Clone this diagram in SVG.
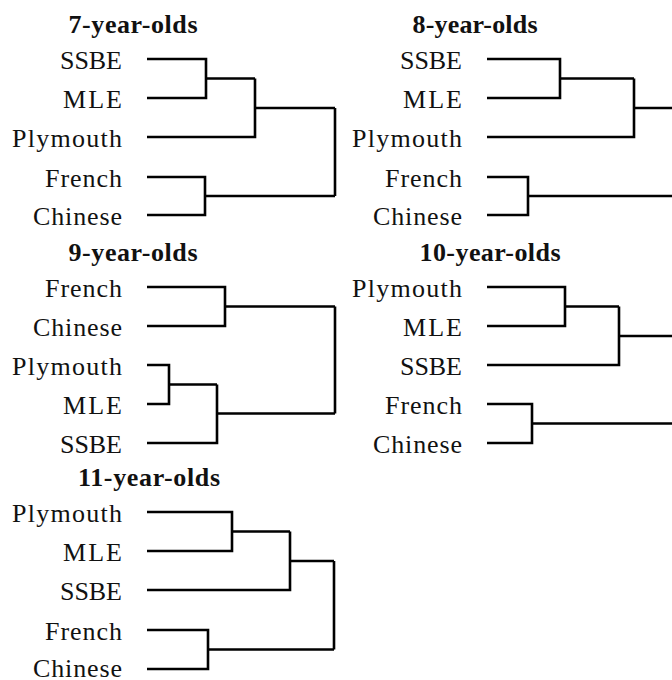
<svg xmlns="http://www.w3.org/2000/svg" width="672" height="680" viewBox="0 0 672 680">
<style>
.t{font-family:"Liberation Serif","DejaVu Serif",serif;font-size:26px;font-weight:bold;fill:#111;text-anchor:middle}
.l{font-family:"Liberation Serif","DejaVu Serif",serif;font-size:26px;fill:#111;text-anchor:end}
.c{fill:none;stroke:#000;stroke-width:2.6;stroke-linejoin:miter;stroke-linecap:butt}
</style>
<rect width="672" height="680" fill="#fff"/>
<g id="panel7">
<text class="t" x="133" y="33" textLength="129" lengthAdjust="spacing">7-year-olds</text>
<text class="l" x="122" y="69" textLength="62">SSBE</text>
<text class="l" x="122" y="108" textLength="59">MLE</text>
<text class="l" x="122" y="147" textLength="110">Plymouth</text>
<text class="l" x="122" y="187" textLength="77">French</text>
<text class="l" x="122" y="225" textLength="89">Chinese</text>
</g>
<g id="panel8">
<text class="t" x="475" y="33" textLength="125">8-year-olds</text>
<text class="l" x="462" y="69" textLength="62">SSBE</text>
<text class="l" x="462" y="108" textLength="59">MLE</text>
<text class="l" x="462" y="147" textLength="110">Plymouth</text>
<text class="l" x="462" y="187" textLength="77">French</text>
<text class="l" x="462" y="225" textLength="89">Chinese</text>
</g>
<g id="panel9">
<text class="t" x="133" y="261" textLength="129">9-year-olds</text>
<text class="l" x="122" y="297" textLength="77">French</text>
<text class="l" x="122" y="336" textLength="89">Chinese</text>
<text class="l" x="122" y="375" textLength="110">Plymouth</text>
<text class="l" x="122" y="414" textLength="59">MLE</text>
<text class="l" x="122" y="453" textLength="62">SSBE</text>
</g>
<g id="panel10">
<text class="t" x="490" y="261" textLength="141">10-year-olds</text>
<text class="l" x="462" y="297" textLength="110">Plymouth</text>
<text class="l" x="462" y="336" textLength="59">MLE</text>
<text class="l" x="462" y="375" textLength="62">SSBE</text>
<text class="l" x="462" y="414" textLength="77">French</text>
<text class="l" x="462" y="453" textLength="89">Chinese</text>
</g>
<g id="panel11">
<text class="t" x="149" y="486" textLength="142">11-year-olds</text>
<text class="l" x="122" y="522" textLength="110">Plymouth</text>
<text class="l" x="122" y="561" textLength="59">MLE</text>
<text class="l" x="122" y="600" textLength="62">SSBE</text>
<text class="l" x="122" y="640" textLength="77">French</text>
<text class="l" x="122" y="677" textLength="89">Chinese</text>
</g>
<g id="connectors">
<path class="c" d="M147 59 H206 V98 H147 M206 78.5 H255 M147 137 H255 V78.5 M255 108 H335 M147 177 H205 V215 H147 M205 196 H335 M335 108 V196"/>
<path class="c" d="M487 59 H560 V98 H487 M560 78.5 H634 M487 137 H634 V78.5 M634 108 H672 M487 177 H528 V215 H487 M528 196 H672"/>
<path class="c" d="M147 287 H225 V326 H147 M225 306.5 H335 M147 365 H169 V404 H147 M169 384.5 H217 M147 443 H217 V384.5 M217 413.5 H335 M335 306.5 V413.5"/>
<path class="c" d="M487 287 H565 V326 H487 M565 306.5 H619 M487 365 H619 V306.5 M619 336 H672 M487 404 H532 V443 H487 M532 423.5 H672"/>
<path class="c" d="M147 512 H232 V551 H147 M232 531.5 H290 M147 590 H290 V531.5 M290 561 H334 M147 630 H208 V669 H147 M208 649.5 H334 M334 561 V649.5"/>
</g>
</svg>
